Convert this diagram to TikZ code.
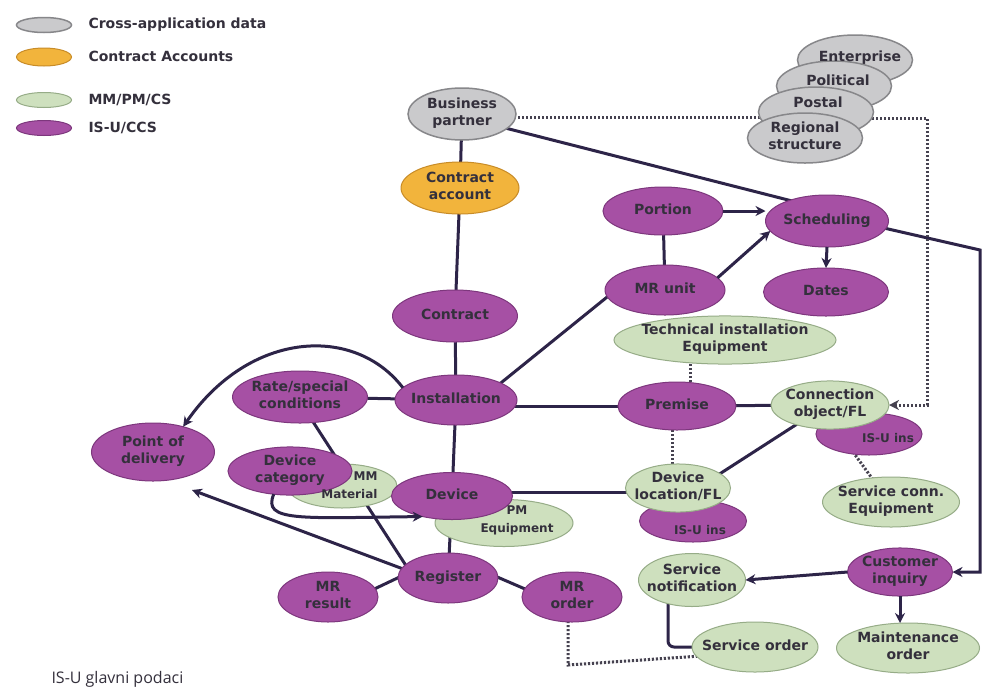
\documentclass[tikz,border=0pt]{standalone}
\usepackage{fontspec}
\setmainfont{DejaVu Sans}
\newfontfamily\capfont{Open Sans}
\usetikzlibrary{shapes.geometric,arrows.meta,calc,backgrounds}
\definecolor{purp}{RGB}{166,80,164}
\definecolor{purpd}{RGB}{125,55,125}
\definecolor{grn}{RGB}{206,224,190}
\definecolor{grnd}{RGB}{150,172,135}
\definecolor{gry}{RGB}{202,202,204}
\definecolor{gryd}{RGB}{135,135,138}
\definecolor{org}{RGB}{242,180,60}
\definecolor{orgd}{RGB}{200,140,40}
\definecolor{ink}{RGB}{52,48,60}
\definecolor{edgec}{RGB}{45,36,72}
\definecolor{dotc}{RGB}{70,66,80}
\newcommand{\lbl}[1]{\makebox[0pt][c]{\begin{tabular}{@{}c@{}}#1\end{tabular}}}
\begin{document}
\begin{tikzpicture}[x=1pt,y=-1pt,
 every node/.style={font=\fontsize{14}{17}\selectfont\bfseries, text=ink},
 el/.style={ellipse, inner sep=0pt, outer sep=0pt},
 pu/.style={el, fill=purp, draw=purpd, line width=1pt},
 gr/.style={el, fill=grn, draw=grnd, line width=1pt},
 gy/.style={el, fill=gry, draw=gryd, line width=1.5pt},
 og/.style={el, fill=org, draw=orgd, line width=1pt},
 sz/.style 2 args={minimum width=#1pt, minimum height=#2pt},
 wire/.style={draw=edgec, line width=3pt},
 arr/.style={wire, -{Stealth[length=10pt,width=10pt]}},
 dots/.style={draw=dotc, line width=3pt, dash pattern=on 2.2pt off 1.8pt},
 small/.style={font=\fontsize{12}{18}\selectfont\bfseries}
]
\useasboundingbox (0,0) rectangle (982,689);

% legend
\node[gy,sz={55}{15}] (lg1) at (44,25) {};
\node[anchor=west] (lt1) at (85,25) {Cross-application data};
\node[og,sz={55}{18}] (lg2) at (44,57) {};
\node[anchor=west] (lt2) at (85,56) {Contract Accounts};
\node[gr,sz={55}{15}] (lg3) at (44,100) {};
\node[anchor=west] (lt3) at (85,100) {MM/PM/CS};
\node[pu,sz={55}{15}] (lg4) at (44,128) {};
\node[anchor=west] (lt4) at (85,128) {IS-U/CCS};

% stacked regional structure
\node[gy,sz={115}{50}] (ent) at (855,60) {};
\node[gy,sz={115}{50}] (pol) at (834,86) {};
\node[gy,sz={115}{50}] (pos) at (816,112) {};
\node[gy,sz={115}{50}] (reg) at (805,138) {\lbl{Regional\\structure}};
\node (entl) at (860,58) {Enterprise};
\node (poll) at (838,80) {Political};
\node (posl) at (818,102) {Postal};

% main nodes
\node[gy,sz={108}{52}] (bp) at (462,114) {\lbl{Business\\partner}};
\node[og,sz={118}{52}] (ca) at (460,188) {\lbl{Contract\\account}};
\node[pu,sz={120}{48}] (portion) at (663,211) {\lbl{Portion}};
\node[pu,sz={123}{52}] (sched) at (827,221) {\lbl{Scheduling}};
\node[pu,sz={120}{50}] (mru) at (665,290) {\lbl{MR unit}};
\node[pu,sz={125}{48}] (dates) at (826,292) {\lbl{Dates}};
\node[gr,sz={222}{46}] (tie) at (725,340) {\lbl{Technical installation\\Equipment}};
\node[pu,sz={125}{52}] (contract) at (455,316) {\lbl{Contract}};
\node[pu,sz={122}{50}] (inst) at (456,400) {\lbl{Installation}};
\node[pu,sz={135}{52}] (rate) at (300,397) {\lbl{Rate/special\\conditions}};
\node[pu,sz={123}{58}] (pod) at (153,452) {\lbl{Point of\\delivery}};
\node[gr,sz={110}{44}] (mmmat) at (342,486) {};
\node[pu,sz={124}{48}] (devcat) at (290,471) {\lbl{Device\\category}};
\node[anchor=east,small] (mmmatl) at (381,486) {\begin{tabular}{@{}r@{}}MM\\Material\end{tabular}};
\node[gr,sz={138}{47}] (pmeq) at (504,523) {};
\node[pu,sz={121}{47}] (device) at (452,496) {\lbl{Device}};
\node[small] (pmeql) at (517,520) {\lbl{PM\\Equipment}};
\node[pu,sz={100}{50}] (register) at (448,578) {\lbl{Register}};
\node[pu,sz={100}{50}] (mrres) at (328,597) {\lbl{MR\\result}};
\node[pu,sz={100}{50}] (mrord) at (572,597) {\lbl{MR\\order}};
\node[pu,sz={118}{48}] (premise) at (677,406) {\lbl{Premise}};
\node[pu,sz={106}{42}] (isu1) at (869,434) {};
\node[gr,sz={118}{46}] (cobj) at (830,405) {\lbl{Connection\\object/FL}};
\node[small] (isu1l) at (888,438) {IS-U ins};
\node[pu,sz={107}{42}] (isu2) at (693,521) {};
\node[gr,sz={105}{48}] (devloc) at (678,488) {\lbl{Device\\location/FL}};
\node[small] (isu2l) at (700,530) {IS-U ins};
\node[gr,sz={137}{50}] (sce) at (891,502) {\lbl{Service conn.\\Equipment}};
\node[pu,sz={105}{46}] (ci) at (900,572) {\lbl{Customer\\inquiry}};
\node[gr,sz={107}{53}] (sn) at (692,580) {\lbl{Service\\notification}};
\node[gr,sz={126}{50}] (so) at (755,647) {\lbl{Service order}};
\node[gr,sz={143}{50}] (mo) at (908,648) {\lbl{Maintenance\\order}};

\node[anchor=base west, font=\capfont\fontsize{16}{19}\selectfont, text=ink] (cap) at (48,683) {IS-U glavni podaci};

\coordinate (d1) at (800,117);
\coordinate (rd1) at (927,118);
\coordinate (rd2) at (927,405);
\coordinate (rc1) at (980,250);
\coordinate (rc2) at (980,572);
\coordinate (mc) at (568,665);

\begin{scope}[on background layer]
\fill[white] (0,0) rectangle (982,689);
\draw[wire] (bp) -- (ca);
\draw[wire] (ca) -- (contract);
\draw[wire] (contract) -- (inst);
\draw[wire] ($(bp.center)+(0,3)$) -- ($(sched.center)+(-27,-18)$);
\draw[wire] (portion) -- (mru);
\draw[wire] ($(inst.center)+(25,-1)$) -- ($(mru.center)+(-35,-11.5)$);
\draw[wire] ($(inst.center)+(0,6)$) -- (premise);
\draw[wire] (premise) -- (cobj);
\draw[wire] ($(devloc.center)+(12,5)$) -- ($(cobj.center)+(-15,7.5)$);
\draw[wire] (inst) -- (rate);
\draw[wire] (inst) -- (device);
\draw[wire] ($(rate.center)+(-3,0)$) -- ($(register.center)+(-34,0)$);
\draw[wire] (register) -- (device);
\draw[wire] ($(mrres.center)+(40,-5)$) -- ($(register.center)+(-40,-5)$);
\draw[wire] ($(register.center)+(40,-5)$) -- ($(mrord.center)+(-40,-5)$);
\draw[wire] ($(device.center)+(0,-4)$) -- ($(devloc.center)+(0,4)$);
\draw[wire, rounded corners=6pt] ($(sn.center)+(-24,0)$) |- (so.west);
\draw[arr] ($(register.center)+(-18,1)$) -- ($(pod.center)+(39,38)$);
\draw[arr] ($(sched.center)+(0,-6)$) -- (rc1) -- (rc2) -- (ci.east);
\draw[dots] ($(premise.center)+(13,0)$) -- ($(tie.center)+(-35,0)$);
\draw[dots] ($(premise.center)+(-5,0)$) -- ($(devloc.center)+(-6,0)$);
\draw[dots] ($(isu1.center)+(-16,18)$) -- ($(sce.center)+(-17,-21)$);
\draw[dots] ($(bp.center)+(0,3)$) -- (d1);
\draw[dots, -{Stealth[length=10pt,width=10pt]}] ($(pos.center)+(0,6)$) -- (rd1) -- (rd2) -- (cobj.east);
\draw[dots] ($(mrord.center)+(-4,0)$) -- (mc) -- ($(so.center)+(-40,8)$);
\end{scope}

\draw[arr] (portion.east) -- (sched.west |- portion.east);
\draw[arr] (mru.13) -- (sched.190);
\draw[arr] (sched.south) -- (dates.north);
\draw[arr] (inst.167) .. controls (355,325) and (250,330) .. (pod.40);
\draw[arr] (devcat.235) .. controls (262,522) and (300,518) .. (device.215);
\draw[arr] (ci.west) -- (sn.east);
\draw[arr] (ci.south) -- (ci.south |- mo.north);
\end{tikzpicture}
\end{document}
